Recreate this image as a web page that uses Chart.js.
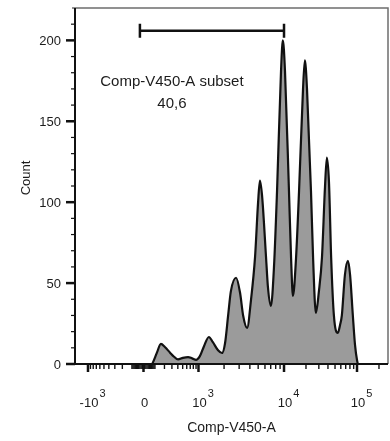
<!DOCTYPE html>
<html>
<head>
<meta charset="utf-8">
<script src="https://cdn.jsdelivr.net/npm/chart.js@4"></script>
<style>
  html, body { margin: 0; padding: 0; background: #fff; }
  canvas { display: block; }
</style>
</head>
<body>
<canvas id="histo" width="390" height="441"></canvas>
<script>
// histogram, x in display channels (0-1024), y in events
const channel = [0, 252, 255, 268, 281, 294, 311, 324, 337, 353, 370, 383, 396, 409, 422, 438, 451, 468, 481,
  491, 501, 510, 527, 540, 550, 563, 576, 589, 599, 605, 612, 625, 631, 641,
  651, 661, 674, 680, 687, 700, 707, 713, 723, 733, 746, 752, 759, 772, 779, 788,
  798, 808, 818, 824, 831, 838, 847, 860, 867, 873, 883, 893, 900, 909, 916, 923, 926, 1024];
const counts = [0, 0, 1, 7, 12.4, 10.5, 7, 4.5, 2.8, 3.8, 4.3, 3.5, 2.6, 5, 11, 16.7, 13.5, 8.5, 6.8,
  13, 30, 45, 53.3, 44, 30, 22.3, 40, 66, 100, 113.4, 104, 66, 48, 35.9,
  60, 107, 181, 200, 181, 107, 65, 42.1, 65, 107, 170, 187.7, 170, 107, 65, 31.6,
  45, 66, 110, 127.6, 112, 66, 30, 19.2, 24, 30, 55, 63.8, 55, 30, 12, 2, 0, 0];

// axis ticks
const yMajor = [0, 50, 100, 150, 200];
const yMinor = [10, 20, 30, 40, 60, 70, 80, 90, 110, 120, 130, 140, 160, 170, 180, 190, 210];
const xMajor = [-1000, 0, 1000, 10000, 100000];
const xMajorBase = ['-10', '0', '10', '10', '10'];
const xMajorExp = ['3', '', '3', '4', '5'];
const xMinor = [-900, -800, -700, -600, -500, -400, -300, -200, -100,
  -90, -80, -70, -60, -50, -40, -30, -20, -10, 10, 20, 30, 40, 50, 60, 70, 80, 90,
  100, 200, 300, 400, 500, 600, 700, 800, 900,
  2000, 3000, 4000, 5000, 6000, 7000, 8000, 9000,
  20000, 30000, 40000, 50000, 60000, 70000, 80000, 90000, 200000];

// gate
const gateRange = [-30, 10000];
const gateCount = 206;
const gateName = 'Comp-V450-A subset';
const gatePercent = '40,6';

// biex-like display transform: intensity -> channel
const anchorT = [-Math.asinh(5), 0, Math.asinh(5), Math.asinh(50), Math.asinh(500)];
const anchorCh = [42.5, 224.1, 404.0, 683.8, 922.6];
function toChannel(v) {
  const t = Math.asinh(v / 200);
  let i = 0;
  while (i < anchorT.length - 2 && t > anchorT[i + 1]) i++;
  const f = (t - anchorT[i]) / (anchorT[i + 1] - anchorT[i]);
  return anchorCh[i] + f * (anchorCh[i + 1] - anchorCh[i]);
}

const FONT = '"Liberation Sans", Arial, sans-serif';
const TEXT = '#1c1c1c';

const axesPlugin = {
  id: 'flowAxes',
  afterDatasetsDraw(chart) {
    const c = chart.ctx;
    const a = chart.chartArea;
    const xs = chart.scales.x, ys = chart.scales.y;
    c.save();

    // frame: gray top/right, black left/bottom
    c.strokeStyle = '#6e6e6e';
    c.lineWidth = 1.5;
    c.beginPath();
    c.moveTo(a.left - 3, a.top);
    c.lineTo(a.right, a.top);
    c.lineTo(a.right, a.bottom);
    c.stroke();

    c.strokeStyle = '#111';
    c.lineWidth = 2;
    c.beginPath();
    c.moveTo(a.left, a.top);
    c.lineTo(a.left, a.bottom);
    c.lineTo(a.right, a.bottom);
    c.stroke();

    // y ticks
    yMajor.forEach(v => {
      const y = ys.getPixelForValue(v);
      c.lineWidth = 2.5;
      c.beginPath(); c.moveTo(a.left - 9, y); c.lineTo(a.left, y); c.stroke();
    });
    c.lineWidth = 1.2;
    yMinor.forEach(v => {
      const y = ys.getPixelForValue(v);
      c.beginPath(); c.moveTo(a.left - 4, y); c.lineTo(a.left, y); c.stroke();
    });

    // x ticks
    c.lineWidth = 2.5;
    xMajor.forEach(v => {
      const x = xs.getPixelForValue(toChannel(v));
      c.beginPath(); c.moveTo(x, a.bottom); c.lineTo(x, a.bottom + 8); c.stroke();
    });
    c.lineWidth = 1.4;
    xMinor.forEach(v => {
      const x = xs.getPixelForValue(toChannel(v));
      if (x > a.right) return;
      c.beginPath(); c.moveTo(x, a.bottom); c.lineTo(x, a.bottom + 5); c.stroke();
    });

    // y labels
    c.fillStyle = TEXT;
    c.font = '13px ' + FONT;
    c.textAlign = 'right';
    c.textBaseline = 'middle';
    yMajor.forEach(v => {
      c.fillText(String(v), a.left - 14, ys.getPixelForValue(v) + 1);
    });

    // x labels with exponents
    c.textBaseline = 'alphabetic';
    xMajor.forEach((v, i) => {
      const x = xs.getPixelForValue(toChannel(v)) + 1;
      c.font = '13px ' + FONT;
      c.textAlign = 'center';
      c.fillText(xMajorBase[i], x, 407);
      if (xMajorExp[i]) {
        const w = c.measureText(xMajorBase[i]).width;
        c.font = '11px ' + FONT;
        c.textAlign = 'left';
        c.fillText(xMajorExp[i], x + w / 2 + 1, 397);
      }
    });

    // axis titles
    c.font = '14px ' + FONT;
    c.textAlign = 'center';
    c.fillText('Comp-V450-A', (a.left + a.right) / 2, 432);
    c.save();
    c.translate(30, 178);
    c.rotate(-Math.PI / 2);
    c.font = '13px ' + FONT;
    c.fillText('Count', 0, 0);
    c.restore();

    // gate bar
    const gx0 = xs.getPixelForValue(toChannel(gateRange[0]));
    const gx1 = xs.getPixelForValue(toChannel(gateRange[1]));
    const gy = ys.getPixelForValue(gateCount);
    c.strokeStyle = '#111';
    c.lineWidth = 2.5;
    c.beginPath();
    c.moveTo(gx0, gy); c.lineTo(gx1, gy);
    c.moveTo(gx0, gy - 7); c.lineTo(gx0, gy + 7);
    c.moveTo(gx1, gy - 7); c.lineTo(gx1, gy + 7);
    c.stroke();

    c.font = '15px ' + FONT;
    c.textAlign = 'center';
    c.fillText(gateName, gx0 + 32, gy + 55);
    c.fillText(gatePercent, gx0 + 32, gy + 77);

    c.restore();
  }
};

const ctx = document.getElementById('histo').getContext('2d');
const chart = new Chart(ctx, {
  type: 'line',
  data: {
    datasets: [{
      data: channel.map((ch, i) => ({ x: ch, y: counts[i] })),
      borderColor: '#111',
      borderWidth: 2.2,
      backgroundColor: '#9b9b9b',
      fill: 'origin',
      pointRadius: 0,
      cubicInterpolationMode: 'monotone'
    }]
  },
  options: {
    responsive: false,
    animation: false,
    layout: { padding: { top: 8, right: 2, left: 0, bottom: 0 } },
    plugins: { legend: { display: false }, tooltip: { enabled: false } },
    scales: {
      x: {
        type: 'linear', min: 0, max: 1024,
        grid: { display: false }, border: { display: false },
        ticks: { display: false },
        afterFit: s => { s.height = 77; }
      },
      y: {
        min: 0, max: 220,
        grid: { display: false }, border: { display: false },
        ticks: { display: false },
        afterFit: s => { s.width = 75; }
      }
    }
  },
  plugins: [axesPlugin]
});
</script>
</body>
</html>
